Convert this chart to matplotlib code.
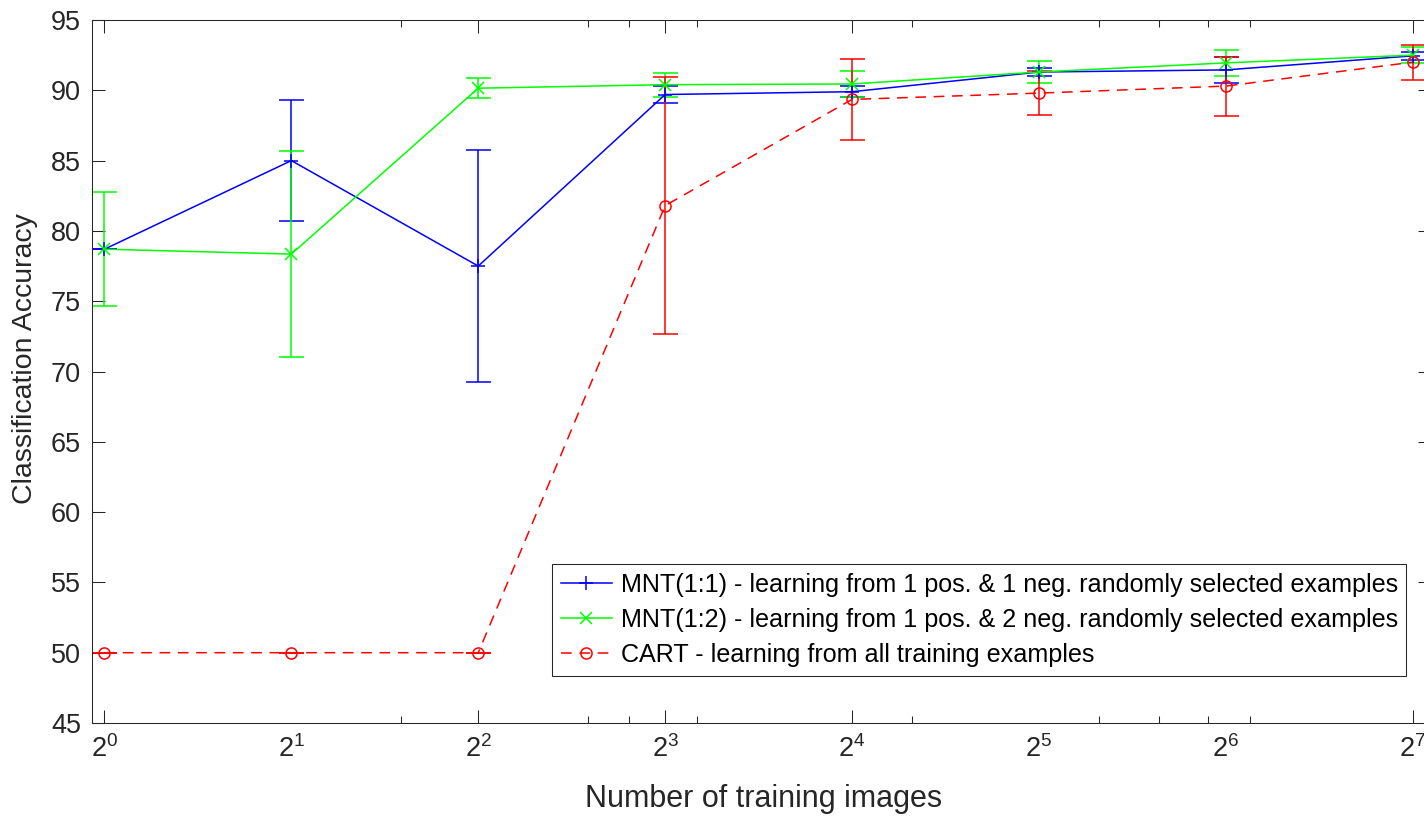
import numpy as np
import matplotlib
matplotlib.use("Agg")
import matplotlib.pyplot as plt
from matplotlib.ticker import FixedLocator, FixedFormatter, NullFormatter

# ---------------- data ----------------
n_images = [1, 2, 4, 8, 16, 32, 64, 128]

mnt11_mean = [78.7, 85.0, 77.5, 89.7, 89.9, 91.3, 91.45, 92.45]
mnt11_err  = [0.0, 4.3, 8.25, 0.63, 0.4, 0.3, 0.95, 0.3]

mnt12_mean = [78.7, 78.35, 90.15, 90.4, 90.45, 91.3, 91.95, 92.5]
mnt12_err  = [4.05, 7.35, 0.7, 0.85, 0.95, 0.8, 0.9, 0.55]

cart_mean = [50.0, 50.0, 50.0, 81.8, 89.35, 89.8, 90.3, 92.0]
cart_err  = [0.0, 0.0, 0.0, 9.15, 2.85, 1.55, 2.1, 1.25]

labels = [
    "MNT(1:1) - learning from 1 pos. & 1 neg. randomly selected examples",
    "MNT(1:2) - learning from 1 pos. & 2 neg. randomly selected examples",
    "CART - learning from all training examples",
]
x_exponents = [0, 1, 2, 3, 4, 5, 6, 7]
y_ticks = [45, 50, 55, 60, 65, 70, 75, 80, 85, 90, 95]
x_minor = [3, 6, 7, 9, 20, 40, 50, 60, 70]

# ---------------- style ----------------
plt.rcParams['font.family'] = ['Liberation Sans', 'DejaVu Sans']
plt.rcParams['mathtext.fontset'] = 'custom'
plt.rcParams['mathtext.rm'] = 'Liberation Sans'
plt.rcParams['mathtext.it'] = 'Liberation Sans'
plt.rcParams['mathtext.bf'] = 'Liberation Sans'

W, H = 1424, 817
fig = plt.figure(figsize=(W / 100, H / 100), dpi=100)
L, R, T, B = 92, 1431, 20, 723
ax = fig.add_axes([L / W, (H - B) / H, (R - L) / W, (B - T) / H])

DARK = '#262626'
lw = 1.1

eb1 = ax.errorbar(n_images, mnt11_mean, yerr=mnt11_err, color=(0, 0, 1), marker='+',
                  ms=10, mew=1.1, lw=lw, elinewidth=lw, capsize=9, capthick=lw)
eb2 = ax.errorbar(n_images, mnt12_mean, yerr=mnt12_err, color=(0, 1, 0), marker='x',
                  ms=8, mew=1.1, lw=lw, elinewidth=lw, capsize=9, capthick=lw)
eb3 = ax.errorbar(n_images, cart_mean, yerr=cart_err, color=(1, 0, 0), marker='o',
                  mfc='none', ms=8, mew=1.1, lw=lw, ls=(0, (7, 5)),
                  elinewidth=lw, capsize=9, capthick=lw)

ax.set_xscale('log', base=2)
ax.set_xlim(0.9547, 137.0)
ax.set_ylim(45, 95)

ax.xaxis.set_major_locator(FixedLocator([2.0 ** k for k in x_exponents]))
ax.xaxis.set_major_formatter(FixedFormatter(
    [r"$\mathdefault{2^{%d}}$" % k for k in x_exponents]))
ax.xaxis.set_minor_locator(FixedLocator(x_minor))
ax.xaxis.set_minor_formatter(NullFormatter())
ax.set_yticks(y_ticks)
ax.set_yticklabels([str(v) for v in y_ticks])

ax.tick_params(axis='both', which='major', direction='in', length=9.5, width=0.75,
               color=DARK, labelcolor=DARK, labelsize=19.5)
ax.tick_params(axis='x', which='major', top=True, pad=9)
ax.tick_params(axis='y', which='major', right=True, pad=8)
ax.tick_params(axis='x', which='minor', direction='in', length=5, width=0.75,
               color=DARK, top=True)

# the reference shows only some tick marks (others vanish in its rendering)
hidden_x = {1, 5, 6}
for k, tick in zip(x_exponents, ax.xaxis.get_major_ticks()):
    if k in hidden_x:
        tick.tick1line.set_visible(False)
        tick.tick2line.set_visible(False)
    if k == 0:
        tick.tick1line.set_color('#b0b0b0')
        tick.tick2line.set_color('#b0b0b0')
right_visible = {90, 80, 70, 65, 55}
for v, tick in zip(y_ticks, ax.yaxis.get_major_ticks()):
    if v not in right_visible:
        tick.tick2line.set_visible(False)

for s in ax.spines.values():
    s.set_color(DARK)
    s.set_linewidth(0.75)

fig.text(764 / W, 1 - 807 / H, "Number of training images", ha='center',
         va='baseline', fontsize=22, color=DARK)
fig.text(25 / W, 1 - 359 / H, "Classification Accuracy", ha='center',
         va='center', rotation=90, fontsize=20.5, color=DARK)

handles = [eb1.lines[0], eb2.lines[0], eb3.lines[0]]
leg = ax.legend(handles, labels, loc='upper left',
                bbox_to_anchor=(552 / W, 1 - 564 / H), bbox_transform=fig.transFigure,
                fontsize=18.1, frameon=True, fancybox=False, framealpha=1,
                edgecolor=DARK, borderaxespad=0, borderpad=0.34,
                labelspacing=0.45, handlelength=2.03, handletextpad=0.36,
                numpoints=1)
leg.get_frame().set_linewidth(0.75)
for t in leg.get_texts():
    t.set_color('black')

fig.savefig("out.png", dpi=100)
